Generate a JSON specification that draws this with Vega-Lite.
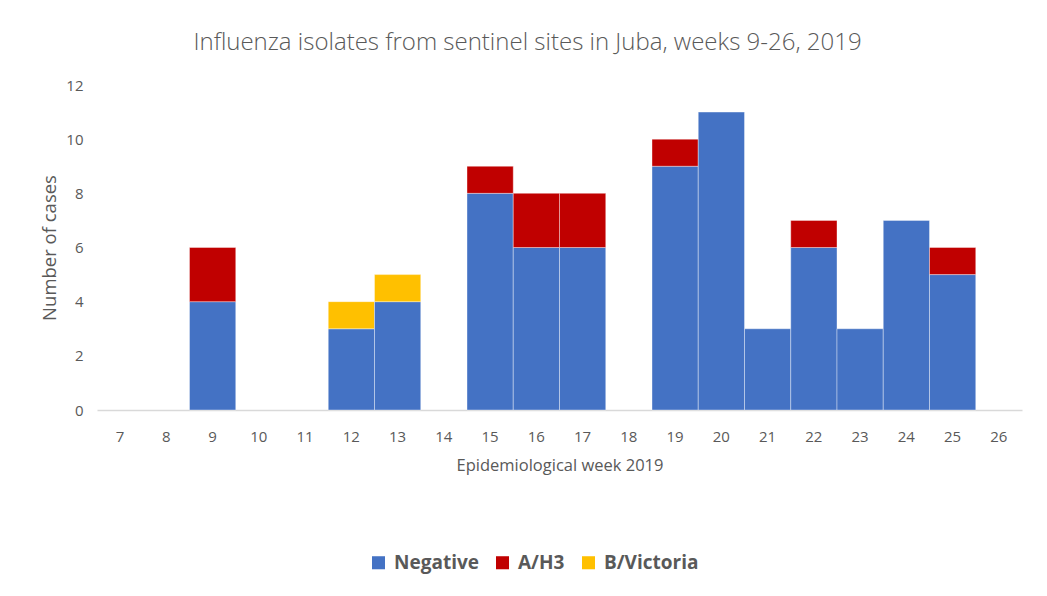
{
  "$schema": "https://vega.github.io/schema/vega-lite/v6.json",
  "width": 925,
  "height": 325,
  "autosize": {"type": "none"},
  "padding": {"left": 97, "top": 85, "right": 25, "bottom": 186},
  "background": "white",
  "title": {
    "text": "Influenza isolates from sentinel sites in Juba, weeks 9-26, 2019",
    "font": "Open Sans",
    "fontSize": 24,
    "fontWeight": 300,
    "color": "#595959",
    "anchor": "middle",
    "dx": -32,
    "offset": 23
  },
  "data": {
    "values": [
      {"week": 9, "type": "Negative", "cases": 4},
      {"week": 9, "type": "A/H3", "cases": 2},
      {"week": 12, "type": "Negative", "cases": 3},
      {"week": 12, "type": "B/Victoria", "cases": 1},
      {"week": 13, "type": "Negative", "cases": 4},
      {"week": 13, "type": "B/Victoria", "cases": 1},
      {"week": 15, "type": "Negative", "cases": 8},
      {"week": 15, "type": "A/H3", "cases": 1},
      {"week": 16, "type": "Negative", "cases": 6},
      {"week": 16, "type": "A/H3", "cases": 2},
      {"week": 17, "type": "Negative", "cases": 6},
      {"week": 17, "type": "A/H3", "cases": 2},
      {"week": 19, "type": "Negative", "cases": 9},
      {"week": 19, "type": "A/H3", "cases": 1},
      {"week": 20, "type": "Negative", "cases": 11},
      {"week": 21, "type": "Negative", "cases": 3},
      {"week": 22, "type": "Negative", "cases": 6},
      {"week": 22, "type": "A/H3", "cases": 1},
      {"week": 23, "type": "Negative", "cases": 3},
      {"week": 24, "type": "Negative", "cases": 7},
      {"week": 25, "type": "Negative", "cases": 5},
      {"week": 25, "type": "A/H3", "cases": 1}
    ]
  },
  "mark": {"type": "bar", "stroke": "#ffffff", "strokeWidth": 0.75, "strokeOpacity": 0.5},
  "encoding": {
    "x": {
      "field": "week",
      "type": "ordinal",
      "scale": {"domain": [7,8,9,10,11,12,13,14,15,16,17,18,19,20,21,22,23,24,25,26], "paddingInner": 0, "paddingOuter": 0},
      "axis": {
        "title": "Epidemiological week 2019",
        "titleFontSize": 16.5,
        "labelAngle": 0,
        "ticks": false,
        "domainColor": "#d9d9d9",
        "domainWidth": 1.5,
        "labelPadding": 19,
        "titlePadding": 13
      }
    },
    "y": {
      "field": "cases",
      "type": "quantitative",
      "stack": "zero",
      "scale": {"domain": [0, 12]},
      "axis": {
        "title": "Number of cases",
        "titleFontSize": 18.5,
        "values": [0,2,4,6,8,10,12],
        "grid": false,
        "domain": false,
        "ticks": false,
        "labelPadding": 14,
        "titlePadding": 6
      }
    },
    "color": {
      "field": "type",
      "type": "nominal",
      "scale": {"domain": ["Negative", "A/H3", "B/Victoria"], "range": ["#4472C4", "#C00000", "#FFC000"]},
      "legend": {
        "title": null,
        "orient": "none",
        "direction": "horizontal",
        "legendX": 272,
        "legendY": 468,
        "symbolType": "square",
        "symbolSize": 170,
        "symbolStrokeWidth": 0,
        "labelFontSize": 19,
        "labelFontWeight": "bold",
        "labelColor": "#595959",
        "labelFont": "Open Sans",
        "columnPadding": 14,
        "labelOffset": 6
      }
    },
    "order": {"field": "typeOrder", "type": "quantitative"}
  },
  "transform": [
    {"calculate": "indexof(['Negative','A/H3','B/Victoria'], datum.type)", "as": "typeOrder"}
  ],
  "config": {
    "view": {"stroke": null},
    "axis": {
      "labelFont": "Open Sans",
      "labelFontSize": 15,
      "labelColor": "#595959",
      "titleFont": "Open Sans",
      "titleFontWeight": "normal",
      "titleColor": "#595959"
    }
  }
}
